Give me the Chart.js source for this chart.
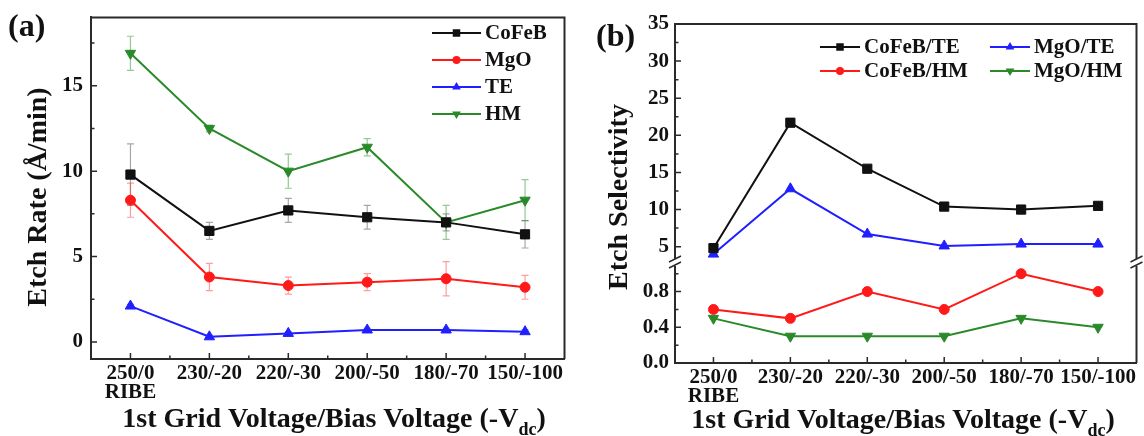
<!DOCTYPE html>
<html>
<head>
<meta charset="utf-8">
<script src="https://cdn.jsdelivr.net/npm/chart.js@4.4.0/dist/chart.umd.min.js"></script>
<style>
body{margin:0;background:#fff;width:1144px;height:436px;overflow:hidden}
.box{position:absolute;top:0;width:572px;height:436px}
</style>
</head>
<body>
<div class="box" style="left:0"><canvas id="chartA" width="572" height="436"></canvas></div>
<div class="box" style="left:572px"><canvas id="chartB" width="572" height="436"></canvas></div>
<script>
const categories = [['250/0','RIBE'],'230/-20','220/-30','200/-50','180/-70','150/-100']

// (a) etch rate in A/min, with error bars
const cofeb = [9.8,6.5,7.7,7.3,7.0,6.3]
const cofebErr = [1.8,0.5,0.7,0.7,0.5,0.8]
const mgo = [8.3,3.8,3.3,3.5,3.7,3.2]
const mgoErr = [1.0,0.8,0.5,0.5,1.0,0.7]
const te = [2.1,0.3,0.5,0.7,0.7,0.6]
const teErr = [0.1,0.1,0.1,0.1,0.1,0.1]
const hm = [16.9,12.5,10.0,11.4,7.0,8.3]
const hmErr = [1.0,0.2,1.0,0.5,1.0,1.2]
const rateTicks = [0,5,10,15]
const rateMinor = [2.5,7.5,12.5,17.5]

// (b) etch selectivity, broken axis
const cofebTe = [4.8,21.7,15.5,10.4,10.0,10.5]
const mgoTe = [4.0,12.8,6.7,5.1,5.35,5.35]
const cofebHm = [0.6,0.5,0.8,0.6,1.0,0.8]
const mgoHm = [0.5,0.3,0.3,0.3,0.5,0.4]
const selTicksHigh = [5,10,15,20,25,30,35]
const selMinorHigh = [7.5,12.5,17.5,22.5,27.5,32.5]
const selTicksLow = [0,0.4,0.8]
const selMinorLow = [0.2,0.6,1.0]

const serif = "'Liberation Serif','Times New Roman',serif"
const black = '#111111'
const red = '#ff1a1a'
const blue = '#1f1fff'
const green = '#2a8a2a'


function marker(ctx,style,rot,r,x,y){
ctx.beginPath()
if(style==='rect'){
let s = r*0.75
ctx.rect(x-s,y-s,2*s,2*s)
}else if(style==='circle'){
ctx.arc(x,y,r*0.8,0,Math.PI*2)
}else{
let d = rot ? -1 : 1
ctx.moveTo(x,y-d*r)
ctx.lineTo(x+r*0.87,y+d*r*0.5)
ctx.lineTo(x-r*0.87,y+d*r*0.5)
ctx.closePath()
}
ctx.fill()
}


const errorBars = {
id:'errorBars',
beforeDatasetsDraw(chart){
const ctx = chart.ctx
ctx.save()
chart.data.datasets.forEach((ds,i)=>{
if(!ds.errors) return
const meta = chart.getDatasetMeta(i)
const ys = chart.scales[meta.yAxisID]
ctx.strokeStyle = ds.errorColor
ctx.lineWidth = 1.2
meta.data.forEach((pt,j)=>{
let y1 = ys.getPixelForValue(ds.data[j]+ds.errors[j])
let y2 = ys.getPixelForValue(ds.data[j]-ds.errors[j])
ctx.beginPath()
ctx.moveTo(pt.x,y1);ctx.lineTo(pt.x,y2)
ctx.moveTo(pt.x-3.5,y1);ctx.lineTo(pt.x+3.5,y1)
ctx.moveTo(pt.x-3.5,y2);ctx.lineTo(pt.x+3.5,y2)
ctx.stroke()
})
})
ctx.restore()
}
}


const frame = {
id:'frame',
afterDraw(chart,args,opts){
const ctx = chart.ctx
const a = chart.chartArea
ctx.save()
ctx.strokeStyle = '#2a2a2a'
ctx.lineWidth = 2
ctx.beginPath()
ctx.moveTo(a.left,a.top);ctx.lineTo(a.right,a.top);ctx.lineTo(a.right,a.bottom)
ctx.stroke()

// inward ticks
ctx.lineWidth = 1.5
const x = chart.scales.x
ctx.beginPath()
categories.forEach((c,i)=>{
let px = x.getPixelForTick(i)
ctx.moveTo(px,a.bottom);ctx.lineTo(px,a.bottom-6)
if(i<categories.length-1){
let mx = (px+x.getPixelForTick(i+1))/2
ctx.moveTo(mx,a.bottom);ctx.lineTo(mx,a.bottom-3.5)
}
})
opts.y.forEach(t=>{
const s = chart.scales[t.id]
t.major.forEach(v=>{let py=s.getPixelForValue(v);ctx.moveTo(a.left,py);ctx.lineTo(a.left+6,py)})
t.minor.forEach(v=>{let py=s.getPixelForValue(v);ctx.moveTo(a.left,py);ctx.lineTo(a.left+3.5,py)})
})
ctx.stroke()

// axis break
if(opts.breakAt){
const yb = chart.scales[opts.breakAt].top
ctx.fillStyle = '#fff'
;[a.left,a.right].forEach(bx=>{
ctx.fillRect(bx-3,yb-4,6,7)
ctx.beginPath()
ctx.moveTo(bx-6,yb-1);ctx.lineTo(bx+6,yb-7)
ctx.moveTo(bx-6,yb+5);ctx.lineTo(bx+6,yb-1)
ctx.lineWidth = 1.5
ctx.stroke()
})
}

// titles
ctx.fillStyle = black
ctx.font = 'bold 28px '+serif
ctx.textAlign = 'center'
ctx.textBaseline = 'middle'
ctx.save()
ctx.translate(opts.yTitle.x,opts.yTitle.y)
ctx.rotate(-Math.PI/2)
ctx.fillText(opts.yTitle.text,0,0)
ctx.restore()

ctx.textBaseline = 'alphabetic'
ctx.textAlign = 'left'
const main = '1st Grid Voltage/Bias Voltage (-V'
ctx.font = 'bold 28px '+serif
let w1 = ctx.measureText(main).width
let w3 = ctx.measureText(')').width
ctx.font = 'bold 18px '+serif
let w2 = ctx.measureText('dc').width
let sx = opts.xTitle.x-(w1+w2+w3)/2
ctx.font = 'bold 28px '+serif
ctx.fillText(main,sx,opts.xTitle.y)
ctx.fillText(')',sx+w1+w2,opts.xTitle.y)
ctx.font = 'bold 18px '+serif
ctx.fillText('dc',sx+w1,opts.xTitle.y+8)

ctx.font = 'bold 32px '+serif
ctx.fillText(opts.panel.text,opts.panel.x,opts.panel.y)

// legend
ctx.font = 'bold 21px '+serif
ctx.textBaseline = 'middle'
opts.legend.forEach(it=>{
const ds = chart.data.datasets[it.i]
ctx.strokeStyle = ds.borderColor
ctx.fillStyle = ds.borderColor
ctx.lineWidth = 2
ctx.beginPath();ctx.moveTo(it.x,it.y);ctx.lineTo(it.x+it.len,it.y);ctx.stroke()
marker(ctx,ds.pointStyle,ds.pointRotation,5,it.x+it.len/2,it.y)
ctx.fillStyle = black
ctx.fillText(ds.label,it.x+it.len+4,it.y+1)
})
ctx.restore()
}
}


function series(label,data,color,style,rot,extra){
return Object.assign({
label:label,
data:data,
borderColor:color,
backgroundColor:color,
borderWidth:2,
pointStyle:style,
pointRotation:rot,
pointRadius:style==='rect'?6.5:(style==='circle'?5:6),
pointBorderWidth:1
},extra||{})
}

const tickFont = {family:serif,size:21,weight:'bold',lineHeight:0.9}
const axisBorder = {display:true,color:'#2a2a2a',width:2}


new Chart(document.getElementById('chartA'),{
type:'line',
data:{
labels:categories,
datasets:[
series('CoFeB',cofeb,black,'rect',0,{errors:cofebErr,errorColor:'rgba(60,60,60,0.45)'}),
series('MgO',mgo,red,'circle',0,{errors:mgoErr,errorColor:'rgba(255,60,60,0.5)'}),
series('TE',te,blue,'triangle',0,{errors:teErr,errorColor:'rgba(40,40,255,0.5)'}),
series('HM',hm,green,'triangle',180,{errors:hmErr,errorColor:'rgba(40,150,40,0.5)'})
]
},
options:{
responsive:false,
animation:false,
devicePixelRatio:1,
layout:{padding:{top:12,right:7,left:0,bottom:0}},
plugins:{
legend:{display:false},
tooltip:{enabled:false},
frame:{
y:[{id:'y',major:rateTicks,minor:rateMinor}],
yTitle:{text:'Etch Rate (Å/min)',x:39,y:197},
xTitle:{x:334,y:427},
panel:{text:'(a)',x:8,y:36},
legend:[{i:0,x:432,y:33,len:49},{i:1,x:432,y:60,len:49},{i:2,x:432,y:87,len:49},{i:3,x:432,y:114,len:49}]
}
},
scales:{
x:{
offset:true,
grid:{display:false,drawTicks:false},
border:axisBorder,
ticks:{font:tickFont,color:black,padding:5,maxRotation:0,autoSkip:false},
afterFit(s){s.height=77}
},
y:{
min:-1,max:19,
grid:{display:false,drawTicks:false},
border:axisBorder,
ticks:{font:tickFont,color:black,padding:8},
afterBuildTicks(s){s.ticks=rateTicks.map(v=>({value:v}))},
afterFit(s){s.width=91}
}
}
},
plugins:[errorBars,frame]
})


new Chart(document.getElementById('chartB'),{
type:'line',
data:{
labels:categories,
datasets:[
series('CoFeB/TE',cofebTe,black,'rect',0,{yAxisID:'y'}),
series('MgO/TE',mgoTe,blue,'triangle',0,{yAxisID:'y'}),
series('CoFeB/HM',cofebHm,red,'circle',0,{yAxisID:'y2'}),
series('MgO/HM',mgoHm,green,'triangle',180,{yAxisID:'y2'})
]
},
options:{
responsive:false,
animation:false,
devicePixelRatio:1,
layout:{padding:{top:24,right:6,left:0,bottom:0}},
plugins:{
legend:{display:false},
tooltip:{enabled:false},
frame:{
y:[{id:'y',major:selTicksHigh,minor:selMinorHigh},{id:'y2',major:selTicksLow,minor:selMinorLow}],
breakAt:'y2',
yTitle:{text:'Etch Selectivity',x:48,y:197},
xTitle:{x:331,y:428},
panel:{text:'(b)',x:24,y:46},
legend:[{i:0,x:248,y:47,len:40},{i:1,x:418,y:47,len:40},{i:2,x:248,y:71,len:40},{i:3,x:418,y:71,len:40}]
}
},
scales:{
x:{
offset:true,
grid:{display:false,drawTicks:false},
border:axisBorder,
ticks:{font:tickFont,color:black,padding:5,maxRotation:0,autoSkip:false},
afterFit(s){s.height=73}
},
y2:{
stack:'sel',stackWeight:1,
position:'left',
min:0,max:1.12,
grid:{display:false,drawTicks:false},
border:axisBorder,
ticks:{font:tickFont,color:black,padding:6,callback:v=>v.toFixed(1)},
afterBuildTicks(s){s.ticks=selTicksLow.map(v=>({value:v}))},
afterFit(s){s.width=103}
},
y:{
stack:'sel',stackWeight:2.39,
position:'left',
min:2.8,max:35,
grid:{display:false,drawTicks:false},
border:axisBorder,
ticks:{font:tickFont,color:black,padding:6},
afterBuildTicks(s){s.ticks=selTicksHigh.map(v=>({value:v}))},
afterFit(s){s.width=103}
}
}
},
plugins:[errorBars,frame]
})
</script>
</body>
</html>
